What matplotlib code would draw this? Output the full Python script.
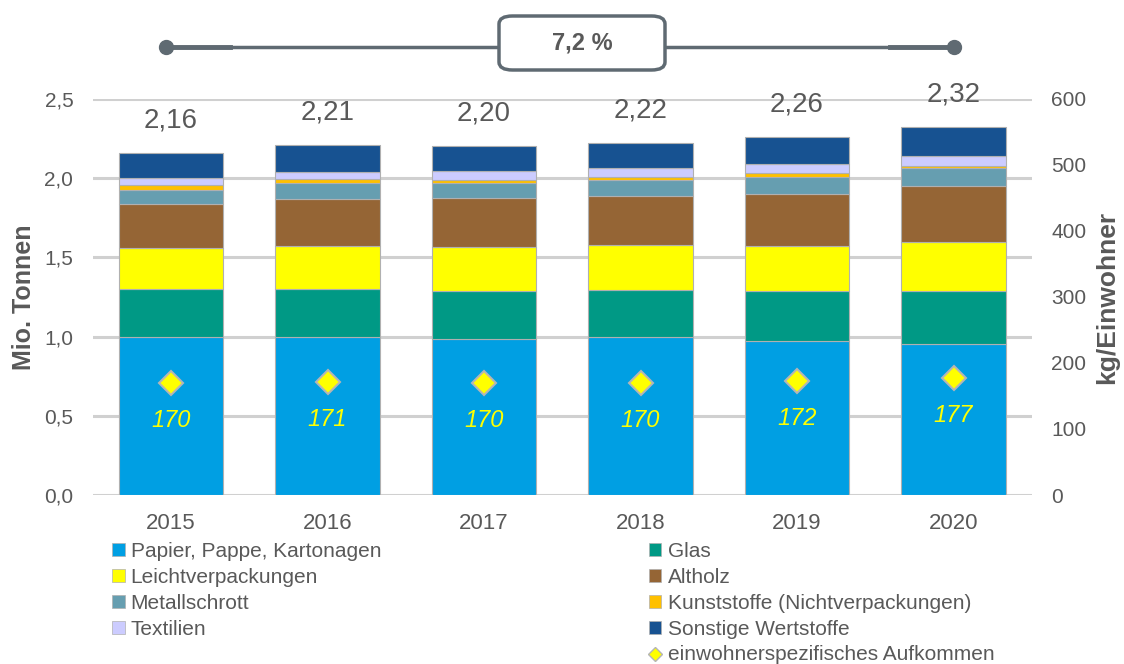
import numpy as np
import matplotlib
matplotlib.use("Agg")
import matplotlib.pyplot as plt
from matplotlib.patches import FancyBboxPatch
from matplotlib.lines import Line2D
from matplotlib.patches import Patch

plt.rcParams['font.family'] = ['Liberation Sans', 'DejaVu Sans']

# Daten (Mio. Tonnen)
jahre = ['2015', '2016', '2017', '2018', '2019', '2020']
papier = [1.00, 1.00, 0.985, 0.995, 0.972, 0.953]
glas = [0.30, 0.30, 0.30, 0.30, 0.314, 0.333]
lvp = [0.26, 0.27, 0.28, 0.28, 0.284, 0.309]
altholz = [0.28, 0.30, 0.31, 0.31, 0.332, 0.356]
metall = [0.087, 0.097, 0.097, 0.105, 0.106, 0.113]
kunststoff = [0.027, 0.025, 0.014, 0.015, 0.025, 0.015]
textil = [0.047, 0.046, 0.057, 0.056, 0.057, 0.059]
sonstige = [0.16, 0.17, 0.16, 0.16, 0.168, 0.183]
summen = ['2,16', '2,21', '2,20', '2,22', '2,26', '2,32']
kg_ew = [170, 171, 170, 170, 172, 177]
zuwachs = '7,2 %'

serien = [
    ('Papier, Pappe, Kartonagen', papier, '#009fe3'),
    ('Glas', glas, '#009985'),
    ('Leichtverpackungen', lvp, '#ffff00'),
    ('Altholz', altholz, '#956535'),
    ('Metallschrott', metall, '#669eb0'),
    ('Kunststoffe (Nichtverpackungen)', kunststoff, '#ffc000'),
    ('Textilien', textil, '#ccccff'),
    ('Sonstige Wertstoffe', sonstige, '#175291'),
]

grau = '#595959'
fig = plt.figure(figsize=(11.24, 6.64), dpi=100)
ax = fig.add_axes([0.0825, 0.2545, 0.8355, 0.5965])
x = np.arange(len(jahre))

unten = np.zeros(len(jahre))
for name, werte, farbe in serien:
    ax.bar(x, werte, 0.67, bottom=unten, color=farbe, edgecolor='#b0b0b0',
           linewidth=0.8, zorder=3)
    unten += np.array(werte)

for i, s in enumerate(summen):
    ax.annotate(s, (x[i], unten[i]), xytext=(0, 14), textcoords='offset points',
                ha='center', va='bottom', fontsize=20, color=grau)

ax.set_xlim(-0.5, 5.5)
ax.set_ylim(0, 2.5)
ax.set_yticks(np.arange(0, 2.51, 0.5))
ax.set_yticklabels([f'{v:.1f}'.replace('.', ',') for v in np.arange(0, 2.51, 0.5)])
ax.set_xticks(x)
ax.set_xticklabels(jahre)
ax.tick_params(axis='x', length=0, labelsize=16, labelcolor=grau, pad=13)
ax.tick_params(axis='y', length=0, labelsize=15, labelcolor=grau, pad=14)
ax.grid(axis='y', color='#d0d0d0', linewidth=2.2, zorder=0)
for sp in ax.spines.values():
    sp.set_visible(False)
ax.set_ylabel('Mio. Tonnen', fontsize=18, fontweight='bold', color=grau, labelpad=6)

ax2 = ax.twinx()
ax2.set_ylim(0, 600)
ax2.set_yticks(np.arange(0, 601, 100))
ax2.tick_params(axis='y', length=0, labelsize=15, labelcolor=grau, pad=14)
for sp in ax2.spines.values():
    sp.set_visible(False)
ax2.set_ylabel('kg/Einwohner', fontsize=19, fontweight='bold', color=grau, labelpad=6)
ax2.plot(x, kg_ew, linestyle='none', marker='D', markersize=12,
         markerfacecolor='#ffff00', markeredgecolor='#b5b5b5', markeredgewidth=1.5,
         zorder=5)
for i, v in enumerate(kg_ew):
    ax2.annotate(str(v), (x[i], v), xytext=(0, -27), textcoords='offset points',
                 ha='center', va='center', fontsize=17, style='italic', color='#ffff00')

# Zuwachs oben
lc = '#5f6a72'
yl = 1 - 47 / 664
fig.add_artist(Line2D([166 / 1124, 230 / 1124], [yl, yl], color=lc, linewidth=3.5,
                      transform=fig.transFigure, zorder=1))
fig.add_artist(Line2D([890 / 1124, 954 / 1124], [yl, yl], color=lc, linewidth=3.5,
                      transform=fig.transFigure, zorder=1))
fig.add_artist(Line2D([166 / 1124, 954 / 1124], [yl, yl], color=lc, linewidth=2.5,
                      transform=fig.transFigure, zorder=1))
fig.add_artist(Line2D([166 / 1124, 954 / 1124], [yl, yl], linestyle='none', marker='o',
                      markersize=10, color=lc, transform=fig.transFigure, zorder=1))
box = FancyBboxPatch((499 / 1124, 1 - 70 / 664), 166 / 1124, 54 / 664,
                     boxstyle='round,pad=0,rounding_size=0.012', transform=fig.transFigure,
                     facecolor='white', edgecolor=lc, linewidth=2.5, zorder=3)
fig.add_artist(box)
fig.text(582 / 1124, 1 - 43 / 664, zuwachs, ha='center', va='center', fontsize=17,
         fontweight='bold', color=grau, zorder=4)

# Legende
handles = [Patch(facecolor=f, edgecolor='#b0b0b0', linewidth=0.5) for _, _, f in serien]
labels = [n for n, _, _ in serien]
links = [0, 2, 4, 6]
rechts = [1, 3, 5, 7]
leg_font = {'size': 15}
kw = dict(loc='upper left', frameon=False, prop=leg_font, handlelength=0.6,
          handleheight=0.6, handletextpad=0.3, labelspacing=0.33, labelcolor=grau,
          borderpad=0, borderaxespad=0)
fig.legend([handles[i] for i in links], [labels[i] for i in links],
           bbox_to_anchor=(112 / 1124, 1 - 542 / 664), **kw)
diamant = Line2D([], [], linestyle='none', marker='D', markersize=7,
                 markerfacecolor='#ffff00', markeredgecolor='#b5b5b5')
fig.legend([handles[i] for i in rechts] + [diamant],
           [labels[i] for i in rechts] + ['einwohnerspezifisches Aufkommen'],
           bbox_to_anchor=(649 / 1124, 1 - 542 / 664), **kw)

fig.savefig('out.png', dpi=100)
